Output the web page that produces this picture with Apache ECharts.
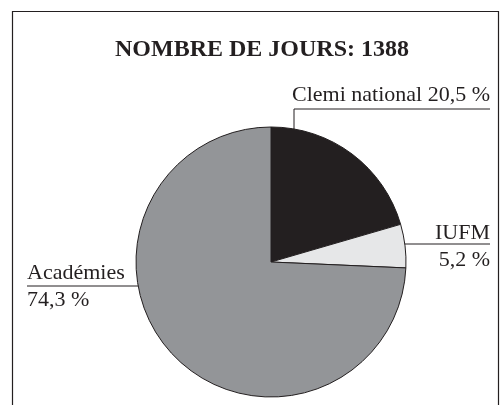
<!DOCTYPE html>
<html>
<head>
<meta charset="utf-8">
<script src="https://cdn.jsdelivr.net/npm/echarts@6/dist/echarts.min.js"></script>
<style>
  html, body { margin: 0; padding: 0; background: #fff; }
  #chart { width: 502px; height: 405px; }
</style>
</head>
<body>
<div id="chart"></div>
<script>
// donnees
const titre = 'NOMBRE DE JOURS: 1388';
const categories = ['Clemi national', 'IUFM', 'Académies'];
const valeurs = [20.5, 5.2, 74.3];
const couleurs = ['#231f20', '#e6e7e8', '#939598'];

const serif = '"Liberation Serif", "DejaVu Serif", serif';

function pct(v) {
    return v.toFixed(1).replace('.', ',') + ' %';
}

// position des etiquettes et des traits de rappel
const etiquettes = [
    { x: 490, y: 95, align: 'right', line: [[294, 169], [294, 109], [490, 109]] },
    { x: 490, y: 247, align: 'right', line: [[372, 244], [490, 244]] },
    { x: 27, y: 287, align: 'left', line: [[170, 286], [27, 286]] }
];

const myChart = echarts.init(document.getElementById('chart'));
myChart.setOption({
    backgroundColor: '#fff',
    animation: false,
    title: {
        text: titre,
        left: 257,
        top: 33,
        textAlign: 'center',
        textStyle: {
            fontFamily: serif,
            fontSize: 24,
            fontWeight: 'bold',
            color: '#231f20'
        }
    },
    graphic: [{
        type: 'rect',
        shape: { x: 12.5, y: 11.5, width: 486, height: 420 },
        style: { fill: 'none', stroke: '#231f20', lineWidth: 1.2 },
        silent: true
    }],
    series: [{
        type: 'pie',
        center: [271, 262],
        radius: 135,
        startAngle: 90,
        clockwise: true,
        avoidLabelOverlap: false,
        itemStyle: {
            borderColor: '#231f20',
            borderWidth: 1
        },
        label: {
            show: true,
            position: 'outside',
            fontFamily: serif,
            fontSize: 22,
            lineHeight: 27,
            color: '#231f20',
            formatter: function (p) {
                if (p.dataIndex === 0) return p.name + ' ' + pct(p.value);
                return p.name + '\n' + pct(p.value);
            }
        },
        labelLine: {
            show: true,
            lineStyle: { color: '#231f20', width: 1 }
        },
        labelLayout: function (params) {
            const e = etiquettes[params.dataIndex];
            return {
                x: e.x,
                y: e.y,
                align: e.align,
                verticalAlign: 'middle',
                labelLinePoints: e.line
            };
        },
        emphasis: { disabled: true },
        data: categories.map(function (c, i) {
            return { name: c, value: valeurs[i], itemStyle: { color: couleurs[i] } };
        })
    }]
});
</script>
</body>
</html>
